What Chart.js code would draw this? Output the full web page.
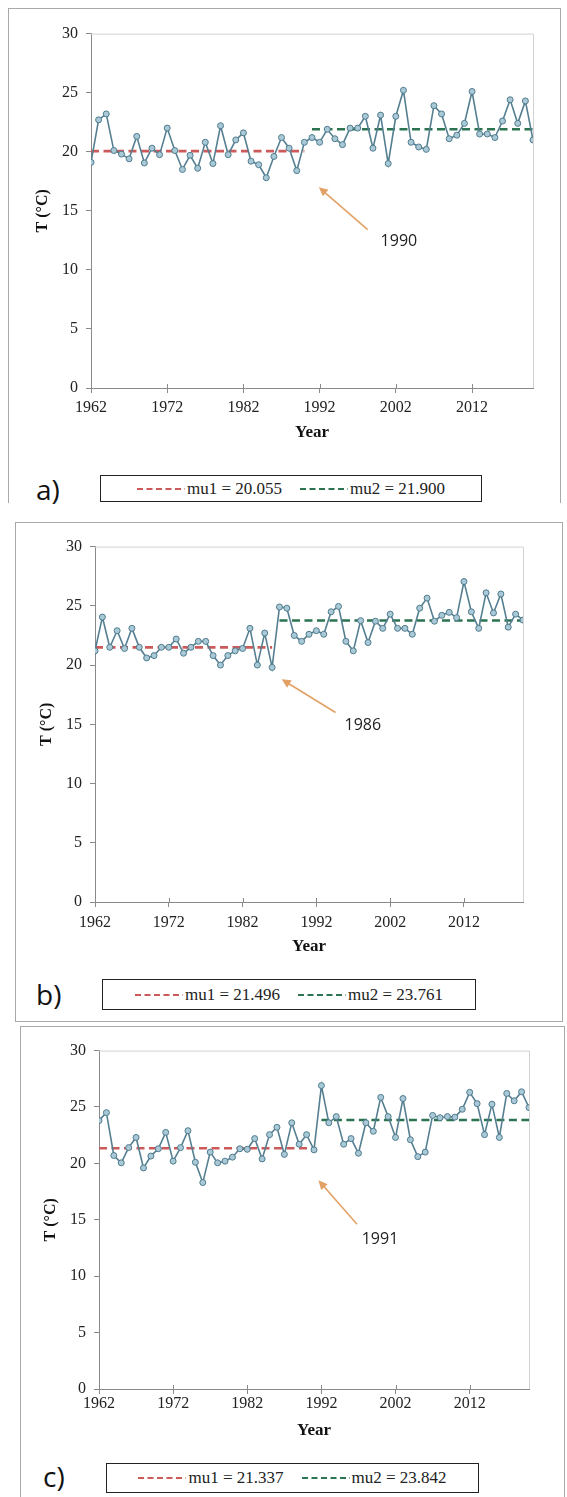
<!DOCTYPE html>
<html>
<head>
<meta charset="utf-8">
<script src="https://cdn.jsdelivr.net/npm/chart.js@4.4.1/dist/chart.umd.min.js"></script>
<style>
  body { margin: 0; background: #fff; width: 567px; height: 1497px; position: relative; overflow: hidden; }
  canvas { position: absolute; }
  .frame { position: absolute; border: 1px solid #a9a9a9; box-sizing: border-box; }
  .frame.open { border-bottom: none; }
  .tag { position: absolute; font-family: 'Open Sans', sans-serif; font-size: 28px; line-height: 28px; color: #111; }
  .legend { position: absolute; border: 1.5px solid #222; box-sizing: border-box; display: flex; align-items: center; justify-content: center; gap: 18px;
            font-family: 'Liberation Serif', 'Times New Roman', serif; font-size: 17px; color: #222; }
  .legend span { display: flex; align-items: center; font-family: 'Liberation Serif', serif; }
  .legend svg { margin-right: 2px; }
</style>
</head>
<body>
<script>
// values
const years = [1962, 1963, 1964, 1965, 1966, 1967, 1968, 1969, 1970, 1971,
  1972, 1973, 1974, 1975, 1976, 1977, 1978, 1979, 1980, 1981,
  1982, 1983, 1984, 1985, 1986, 1987, 1988, 1989, 1990, 1991,
  1992, 1993, 1994, 1995, 1996, 1997, 1998, 1999, 2000, 2001,
  2002, 2003, 2004, 2005, 2006, 2007, 2008, 2009, 2010, 2011,
  2012, 2013, 2014, 2015, 2016, 2017, 2018, 2019, 2020]

const tempA = [19.1, 22.7, 23.2, 20.1, 19.8, 19.4, 21.3, 19.05, 20.3, 19.75,
  22.0, 20.1, 18.5, 19.7, 18.6, 20.8, 19.0, 22.2, 19.75, 21.0,
  21.6, 19.2, 18.9, 17.8, 19.6, 21.2, 20.3, 18.4, 20.8, 21.2,
  20.8, 21.9, 21.1, 20.6, 22.0, 22.0, 23.0, 20.3, 23.1, 19.0,
  23.0, 25.2, 20.8, 20.4, 20.2, 23.9, 23.2, 21.1, 21.4, 22.4,
  25.1, 21.5, 21.5, 21.2, 22.6, 24.4, 22.4, 24.3, 21.0]

const tempB = [21.2, 24.05, 21.5, 22.9, 21.4, 23.1, 21.5, 20.6, 20.8, 21.5,
  21.5, 22.2, 21.0, 21.5, 22.0, 22.0, 20.8, 20.0, 20.8, 21.2,
  21.4, 23.1, 20.0, 22.7, 19.8, 24.9, 24.8, 22.5, 22.0, 22.6,
  22.9, 22.6, 24.5, 24.95, 22.0, 21.2, 23.75, 21.9, 23.7, 23.1,
  24.3, 23.1, 23.1, 22.6, 24.8, 25.65, 23.7, 24.2, 24.45, 24.0,
  27.05, 24.5, 23.1, 26.1, 24.4, 26.0, 23.2, 24.3, 23.8]

const tempC = [23.8, 24.5, 20.7, 20.05, 21.4, 22.3, 19.6, 20.65, 21.3, 22.75,
  20.2, 21.4, 22.9, 20.1, 18.3, 21.0, 20.05, 20.2, 20.55, 21.3,
  21.25, 22.2, 20.4, 22.55, 23.2, 20.8, 23.6, 21.7, 22.55, 21.2,
  26.9, 23.6, 24.15, 21.7, 22.2, 20.9, 23.6, 22.85, 25.85, 24.15,
  22.3, 25.75, 22.1, 20.6, 21.0, 24.25, 24.05, 24.15, 24.1, 24.8,
  26.3, 25.3, 22.55, 25.25, 22.3, 26.2, 25.55, 26.35, 24.95]

const changeYears = [1990, 1986, 1991]
const mu1Values = [20.055, 21.496, 21.337]
const mu2Values = [21.900, 23.761, 23.842]
const panelTags = ['a)', 'b)', 'c)']
const xTickValues = [1962, 1972, 1982, 1992, 2002, 2012]
const yTickStep = 5

const lineColor = '#557f91'
const redColor = '#cd5a5a'
const greenColor = '#2b7351'
const arrowColor = '#e2a266'
const axisColor = '#8a8a8a'
const serif = "'Liberation Serif', 'Times New Roman', serif"

// page layout of each panel (pixels) and where the arrow sits (data units)
const panels = [
  { temps: tempA, area: { left: 91, top: 30, right: 533, bottom: 388 }, tickPad: 5, titleGap: 45,
    arrow: { from: [1998.3, 13.4], to: [1991.9, 17.0], label: [2002.4, 12.4] },
    frame: { left: 8, top: 8, width: 553, height: 495, open: true }, legend: { left: 100, top: 475, width: 382, height: 27 }, tag: { left: 36, top: 475 } },
  { temps: tempB, area: { left: 95, top: 543, right: 523, bottom: 901.5 }, tickPad: 6, titleGap: 45,
    arrow: { from: [1994.6, 16.0], to: [1987.3, 18.8], label: [1998.3, 14.9] },
    frame: { left: 15, top: 522, width: 548, height: 500 }, legend: { left: 102, top: 979, width: 374, height: 31 }, tag: { left: 36, top: 980 } },
  { temps: tempC, area: { left: 99, top: 1046.7, right: 529.3, bottom: 1388.7 }, tickPad: 0, titleGap: 41.5,
    arrow: { from: [1996.8, 14.6], to: [1991.6, 18.5], label: [1999.9, 13.3] },
    frame: { left: 20, top: 1026, width: 545, height: 500 }, legend: { left: 106, top: 1463, width: 373, height: 30 }, tag: { left: 43, top: 1462 } }
]

const decor = {
  id: 'decor',
  beforeDatasetsDraw(chart) {
    const { ctx, chartArea: a, scales: { x } } = chart
    ctx.save()
    ctx.strokeStyle = '#d2d2d2'
    ctx.lineWidth = 1
    ctx.beginPath()
    ctx.moveTo(a.left, a.top + 0.5)
    ctx.lineTo(a.right + 0.5, a.top + 0.5)
    ctx.lineTo(a.right + 0.5, a.bottom)
    ctx.stroke()
    // x ticks poke a little into the plot too
    ctx.strokeStyle = axisColor
    ctx.beginPath()
    xTickValues.forEach(v => {
      const px = Math.round(x.getPixelForValue(v)) + 0.5
      ctx.moveTo(px, a.bottom)
      ctx.lineTo(px, a.bottom - 4)
    })
    ctx.stroke()
    ctx.restore()
  },
  afterDatasetsDraw(chart, args, opts) {
    const { ctx, scales: { x, y } } = chart
    const x1 = x.getPixelForValue(opts.from[0]), y1 = y.getPixelForValue(opts.from[1])
    const x2 = x.getPixelForValue(opts.to[0]), y2 = y.getPixelForValue(opts.to[1])
    const ang = Math.atan2(y2 - y1, x2 - x1)
    const head = 10
    ctx.save()
    ctx.strokeStyle = arrowColor
    ctx.fillStyle = arrowColor
    ctx.lineWidth = 1.6
    ctx.beginPath()
    ctx.moveTo(x1, y1)
    ctx.lineTo(x2 - Math.cos(ang) * head * 0.7, y2 - Math.sin(ang) * head * 0.7)
    ctx.stroke()
    ctx.beginPath()
    ctx.moveTo(x2, y2)
    ctx.lineTo(x2 - head * Math.cos(ang - 0.45), y2 - head * Math.sin(ang - 0.45))
    ctx.lineTo(x2 - head * Math.cos(ang + 0.45), y2 - head * Math.sin(ang + 0.45))
    ctx.closePath()
    ctx.fill()
    ctx.fillStyle = '#222'
    ctx.font = "16px 'Open Sans', sans-serif"
    ctx.textAlign = 'center'
    ctx.textBaseline = 'middle'
    ctx.fillText(opts.text, x.getPixelForValue(opts.label[0]), y.getPixelForValue(opts.label[1]))
    ctx.restore()
  }
}

const addBox = (cls, box) => {
  const el = document.createElement('div')
  el.className = cls
  el.style.left = box.left + 'px'
  el.style.top = box.top + 'px'
  if (box.width) el.style.width = box.width + 'px'
  if (box.height) el.style.height = box.height + 'px'
  document.body.appendChild(el)
  return el
}

const dashSample = (color) =>
  `<svg width="48" height="6"><line x1="0" y1="3" x2="48" y2="3" stroke="${color}" stroke-width="2" stroke-dasharray="6 3.5"/></svg>`

const makePanel = (p, i) => {
  const yW = 70, xH = 62, padTop = 14, padRight = 14
  addBox(p.frame.open ? 'frame open' : 'frame', p.frame)

  const cv = document.createElement('canvas')
  const left = p.area.left - yW, top = p.area.top - padTop
  cv.width = Math.round(p.area.right + padRight - left)
  cv.height = Math.round(p.area.bottom + xH - top)
  cv.style.left = left + 'px'
  cv.style.top = top + 'px'
  document.body.appendChild(cv)

  const first = years[0], last = years[years.length - 1]
  new Chart(cv, {
    type: 'line',
    data: {
      datasets: [
        {
          data: years.map((yr, k) => ({ x: yr, y: p.temps[k] })),
          borderColor: lineColor, borderWidth: 1.6, tension: 0,
          pointRadius: 3, pointBackgroundColor: '#a9c9d7', pointBorderColor: '#4f7b8d', pointBorderWidth: 1
        },
        {
          data: [{ x: first, y: mu1Values[i] }, { x: changeYears[i], y: mu1Values[i] }],
          borderColor: redColor, borderWidth: 2.6, borderDash: [8, 4.5], pointRadius: 0
        },
        {
          data: [{ x: changeYears[i] + 1, y: mu2Values[i] }, { x: last, y: mu2Values[i] }],
          borderColor: greenColor, borderWidth: 2.6, borderDash: [8, 4.5], pointRadius: 0
        }
      ]
    },
    options: {
      responsive: false,
      animation: false,
      devicePixelRatio: 1,
      layout: { padding: { top: padTop, right: padRight, left: 0, bottom: 0 } },
      plugins: {
        legend: { display: false },
        tooltip: { enabled: false },
        decor: { ...p.arrow, text: String(changeYears[i]) }
      },
      scales: {
        x: {
          type: 'linear', min: first, max: last,
          afterBuildTicks: (s) => { s.ticks = xTickValues.map(v => ({ value: v })) },
          afterFit: (s) => { s.height = xH },
          grid: { drawOnChartArea: false, tickLength: 5, color: axisColor },
          border: { color: axisColor, width: 1 },
          ticks: { autoSkip: false, maxRotation: 0, padding: p.tickPad, color: '#222', font: { family: serif, size: 16 }, callback: v => String(v) },
          title: { display: true, text: 'Year', color: '#111', font: { family: serif, size: 17, weight: 'bold' },
                   padding: { top: 0, bottom: xH - p.titleGap - 10.2 } }
        },
        y: {
          min: 0, max: 30,
          afterFit: (s) => { s.width = yW },
          grid: { drawOnChartArea: false, tickLength: 5, color: axisColor },
          border: { color: axisColor, width: 1 },
          ticks: { stepSize: yTickStep, padding: 8, color: '#222', font: { family: serif, size: 16 } },
          title: { display: true, text: 'T (°C)', color: '#111', font: { family: serif, size: 16, weight: 'bold' },
                   padding: { top: 12, bottom: 0 } }
        }
      }
    },
    plugins: [decor]
  })

  const lg = addBox('legend', p.legend)
  lg.innerHTML = `<span>${dashSample(redColor)}mu1 = ${mu1Values[i].toFixed(3)}</span>` +
                 `<span>${dashSample(greenColor)}mu2 = ${mu2Values[i].toFixed(3)}</span>`
  const tg = addBox('tag', p.tag)
  tg.textContent = panelTags[i]
}

panels.forEach(makePanel)
</script>
</body>
</html>
